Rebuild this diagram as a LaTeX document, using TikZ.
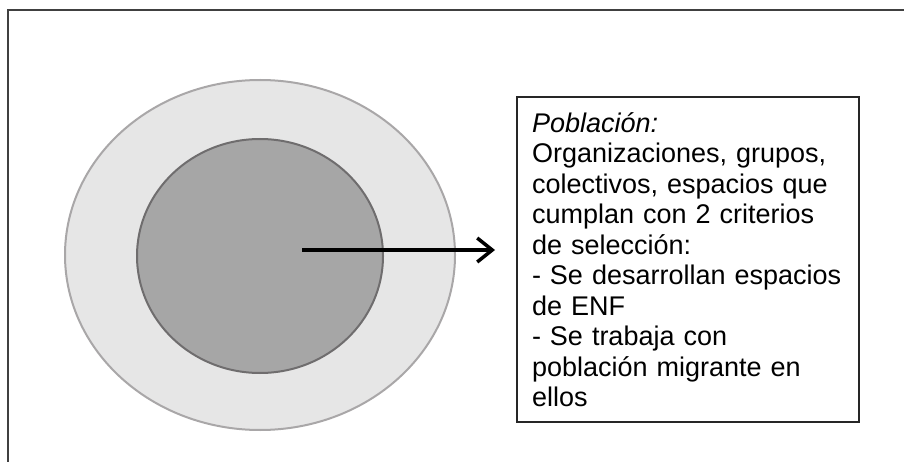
\documentclass[tikz,border=0pt]{standalone}
\usepackage{fontspec}
\setmainfont{Liberation Sans}
\usetikzlibrary{shapes,arrows.meta,positioning}
\definecolor{ringfill}{HTML}{E6E6E6}
\definecolor{ringline}{HTML}{A9A7A8}
\definecolor{corefill}{HTML}{A6A6A6}
\definecolor{coreline}{HTML}{6F6D6E}
\definecolor{boxline}{HTML}{262626}
\definecolor{frameline}{HTML}{404040}
\hyphenpenalty=10000
\begin{document}
\begin{tikzpicture}[x=1pt,y=-1pt,
    ring/.style={ellipse, fill=ringfill, draw=ringline, line width=2pt},
    core/.style={ellipse, fill=corefill, draw=coreline, line width=2pt},
    popbox/.style={draw=boxline, line width=2pt, minimum width=342pt,
      minimum height=325pt, text width=312pt, inner xsep=15pt, align=left,
      font=\fontsize{27}{30.5}\selectfont},
    link/.style={-{Straight Barb[length=15pt,width=24pt]}, line width=3.5pt},
    frame/.style={draw=frameline, line width=1.5pt}]
  \useasboundingbox (0,0) rectangle (904,462);
  \draw[frame] (8,462) -- (8,10) -- (904,10); %

  \node[ring, minimum width=390pt, minimum height=350pt] (outer) at (260,255) {}; %
  \node[core, minimum width=246pt, minimum height=234pt] (inner) at (260,256) {};
  \node[popbox] (pop) at (688,259.5) {\textit{Población:}\\
    Organizaciones, grupos,\\
    colectivos, espacios que\\
    cumplan con 2 criterios\\
    de selección:\\
    - Se desarrollan espacios\\
    de ENF\\
    - Se trabaja con\\
    población migrante en\\
    ellos};

  \coordinate (from) at (302,250);
  \coordinate (to) at (495,250);
  \draw[link] (from) -- (to); %
\end{tikzpicture}
\end{document}
